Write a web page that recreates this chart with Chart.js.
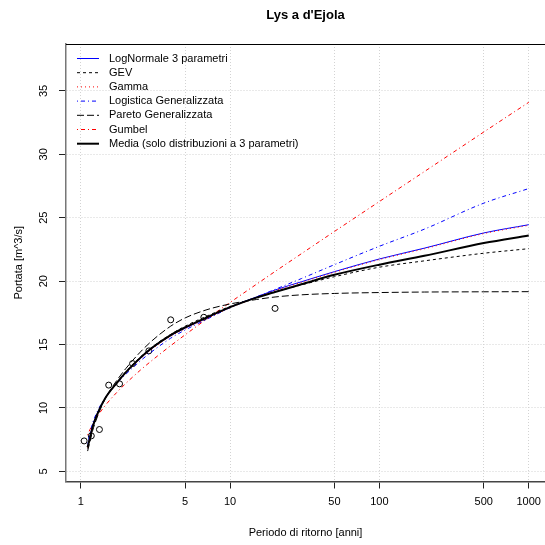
<!DOCTYPE html>
<html>
<head>
<meta charset="utf-8">
<title>Lys a d'Ejola</title>
<script src="https://cdn.jsdelivr.net/npm/chart.js@4.4.1/dist/chart.umd.min.js"></script>
<style>
  html, body { margin: 0; padding: 0; background: #ffffff; }
</style>
</head>
<body>
<canvas id="chart" width="545" height="545"></canvas>
<script>
//Return periods where the fitted curves were read
const periods = [1.111, 1.15, 1.2, 1.3, 1.4, 1.5, 1.75, 2, 2.5, 3, 4, 5, 7, 10, 15, 20, 30, 50, 100, 200, 500, 1000];
//Fitted discharges (m^3/s) for each distribution
const logNormale = [6.95, 7.7, 8.6, 9.65, 10.4, 11.0, 12.0, 12.8, 13.9, 14.7, 15.7, 16.3, 17.1, 17.95, 18.75, 19.3, 19.95, 20.75, 21.75, 22.6, 23.8, 24.45];
const gev = [6.8, 7.6, 8.5, 9.6, 10.4, 11.0, 12.05, 12.85, 14.0, 14.8, 15.8, 16.45, 17.25, 18.0, 18.7, 19.15, 19.7, 20.35, 21.1, 21.6, 22.2, 22.56];
const gamma = [6.9, 7.65, 8.55, 9.6, 10.35, 10.95, 11.95, 12.75, 13.85, 14.65, 15.65, 16.25, 17.05, 17.9, 18.7, 19.25, 19.9, 20.7, 21.7, 22.55, 23.75, 24.4];
const logistica = [7.2, 7.95, 8.8, 9.8, 10.5, 11.0, 11.95, 12.65, 13.7, 14.45, 15.5, 16.15, 17.0, 17.9, 18.75, 19.35, 20.2, 21.3, 22.75, 24.1, 26.15, 27.3];
const pareto = [6.6, 7.3, 8.2, 9.4, 10.3, 11.0, 12.2, 13.1, 14.4, 15.3, 16.45, 17.1, 17.75, 18.2, 18.55, 18.75, 18.92, 19.03, 19.1, 19.14, 19.16, 19.17];
const gumbel = [7.86, 8.28, 8.71, 9.39, 9.93, 10.37, 11.25, 11.93, 12.97, 13.75, 14.91, 15.77, 17.03, 18.32, 19.75, 20.76, 22.16, 23.92, 26.28, 28.64, 31.76, 34.1];
const media = [6.9, 7.6, 8.5, 9.6, 10.4, 11.0, 12.0, 12.8, 13.95, 14.75, 15.75, 16.35, 17.15, 17.95, 18.7, 19.15, 19.75, 20.5, 21.3, 22.0, 23.0, 23.6];
//Observed annual maxima with their plotting positions
const obsPeriods = [1.053, 1.176, 1.333, 1.538, 1.818, 2.222, 2.857, 4, 6.667, 20];
const obsValues = [7.4, 7.8, 8.3, 11.8, 11.9, 13.5, 14.5, 16.95, 17.15, 17.85];
//Tick labels
const xTicks = [1, 5, 10, 50, 100, 500, 1000];
const yTicks = [5, 10, 15, 20, 25, 30, 35];

const toPoints = (xs, ys) => xs.map((x, i) => ({ x: x, y: ys[i] }));

Chart.defaults.font.family = "'Liberation Sans', Arial, Helvetica, sans-serif";
Chart.defaults.color = "#000000";

//one entry per curve, in legend order; "order" sets what is painted on top
const curve = (label, values, color, dash, width, order) => ({
  label: label,
  data: toPoints(periods, values),
  borderColor: color,
  borderDash: dash,
  borderWidth: width,
  pointRadius: 0,
  fill: false,
  cubicInterpolationMode: "monotone",
  order: order,
});

//Legend drawn inside the plot, top left, without a box
const legendInside = {
  id: "legendInside",
  afterDatasetsDraw(chart) {
    const ctx = chart.ctx;
    const items = chart.data.datasets.filter((d) => d.label);
    ctx.save();
    ctx.font = "11px 'Liberation Sans', Arial, Helvetica, sans-serif";
    ctx.textBaseline = "middle";
    ctx.fillStyle = "#000";
    items.forEach((d, i) => {
      const y = 58.5 + i * 14.2;
      ctx.beginPath();
      ctx.strokeStyle = d.borderColor;
      ctx.lineWidth = d.borderWidth;
      ctx.setLineDash(d.borderDash);
      ctx.moveTo(77, y);
      ctx.lineTo(99, y);
      ctx.stroke();
      ctx.setLineDash([]);
      ctx.fillText(d.label, 109, y);
    });
    //top side of the plot frame
    ctx.beginPath();
    ctx.strokeStyle = "#000";
    ctx.lineWidth = 1;
    ctx.moveTo(chart.chartArea.left, chart.chartArea.top + 0.5);
    ctx.lineTo(chart.chartArea.right, chart.chartArea.top + 0.5);
    ctx.stroke();
    ctx.restore();
  },
};

const myChart = new Chart(document.getElementById("chart"), {
  type: "line",
  plugins: [legendInside],
  data: {
    datasets: [
      curve("LogNormale 3 parametri", logNormale, "#0000ff", [], 1, 3),
      curve("GEV", gev, "#000000", [3, 3], 1, 4),
      curve("Gamma", gamma, "#ff0000", [1, 3], 1, 2),
      curve("Logistica Generalizzata", logistica, "#0000ff", [1, 3, 4, 3], 1, 5),
      curve("Pareto Generalizzata", pareto, "#000000", [7, 3], 1, 6),
      curve("Gumbel", gumbel, "#ff0000", [1, 3, 4, 3], 1, 7),
      curve("Media (solo distribuzioni a 3 parametri)", media, "#000000", [], 2, 1),
      {
        label: "",
        data: toPoints(obsPeriods, obsValues),
        showLine: false,
        pointStyle: "circle",
        pointRadius: 3,
        pointBorderWidth: 1,
        pointBorderColor: "#000000",
        pointBackgroundColor: "rgba(0,0,0,0)",
        borderColor: "#000000",
        order: 8,
      },
    ],
  },
  options: {
    responsive: false,
    animation: false,
    layout: { padding: 0, autoPadding: false },
    plugins: {
      legend: { display: false },
      tooltip: { enabled: false },
      title: {
        display: true,
        text: "Lys a d'Ejola",
        fullSize: false,
        font: { size: 13, weight: "bold" },
        padding: { top: 7.5, bottom: 20.9 },
      },
    },
    scales: {
      x: {
        type: "logarithmic",
        min: 0.796,
        max: 1285,
        afterBuildTicks: (s) => { s.ticks = xTicks.map((v) => ({ value: v })); },
        afterFit: (s) => {
          s.height = 63.5;
          s.paddingLeft = 0;
          s.paddingRight = 0;
        },
        ticks: {
          callback: (v) => String(v),
          autoSkip: false,
          maxRotation: 0,
          font: { size: 11 },
          padding: 7,
        },
        grid: { color: "#d3d3d3", tickLength: 7, tickColor: "#222", tickBorderDash: [] },
        border: { display: true, color: "#444", width: 1.5, dash: [1, 2] },
        title: {
          display: true,
          text: "Periodo di ritorno [anni]",
          font: { size: 11 },
          padding: { top: 0, bottom: 5.4 },
        },
      },
      y: {
        type: "linear",
        min: 4.2,
        max: 38.7,
        afterBuildTicks: (s) => { s.ticks = yTicks.map((v) => ({ value: v })); },
        afterFit: (s) => {
          s.width = 66;
          s.paddingTop = 0;
          s.paddingBottom = 0;
        },
        ticks: {
          minRotation: 90,
          maxRotation: 90,
          crossAlign: "center",
          font: { size: 11 },
          padding: 9,
        },
        grid: { color: "#d3d3d3", tickLength: 7, tickColor: "#222", tickBorderDash: [] },
        border: { display: true, color: "#777", width: 1.5, dash: [1, 2] },
        title: {
          display: true,
          text: "Portata [m^3/s]",
          font: { size: 11 },
          padding: { top: 12.5 },
        },
      },
    },
  },
});
</script>
</body>
</html>
